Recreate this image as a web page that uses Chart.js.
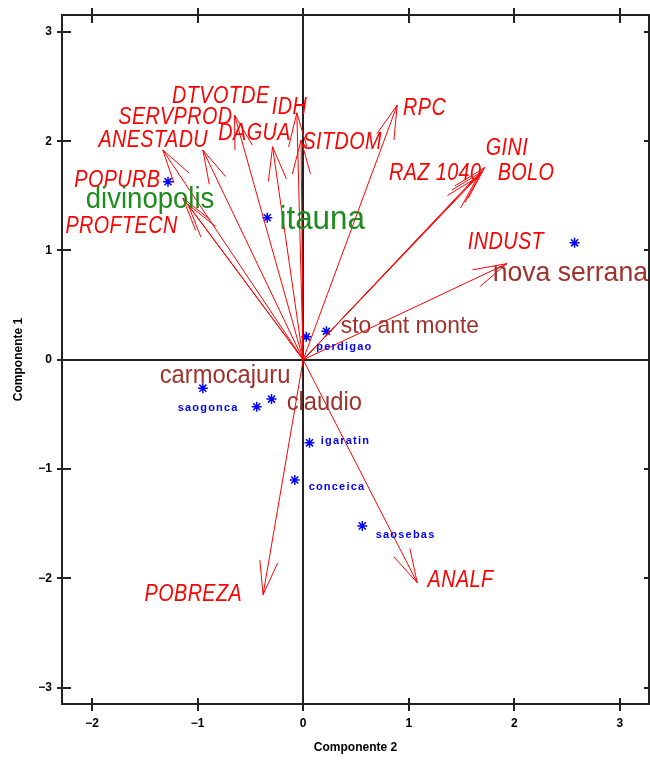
<!DOCTYPE html>
<html>
<head>
<meta charset="utf-8">
<script src="https://cdn.jsdelivr.net/npm/chart.js@4.4.1/dist/chart.umd.min.js"></script>
<style>
  html, body { margin: 0; padding: 0; background: #fff; }
  canvas { display: block; }
</style>
</head>
<body>
<canvas id="biplot" width="650" height="761"></canvas>
<script>
// Variable loadings (arrow tips)
const varNames = ['ANESTADU', 'SERVPROD', 'DTVOTDE', 'DAGUA', 'IDH', 'SITDOM', 'RPC', 'GINI', 'BOLO', 'RAZ 1040', 'INDUST', 'POPURB', 'PROFTECN', 'POBREZA', 'ANALF'];
const varX = [-1.33, -0.95, -0.65, -0.29, -0.06, -0.02, 0.89, 1.72, 1.69, 1.65, 1.93, -1.14, -1.09, -0.38, 1.08];
const varY = [1.92, 1.92, 2.24, 1.95, 2.26, 2.01, 2.33, 1.76, 1.72, 1.67, 0.88, 1.48, 1.42, -2.15, -2.04];
// where each variable name is written
const varLabelX = [-1.42, -1.21, -0.78, -0.46, -0.13, 0.37, 1.15, 1.93, 2.11, 1.25, 1.92, -1.76, -1.72, -1.04, 1.49];
const varLabelY = [2.01, 2.22, 2.41, 2.07, 2.31, 1.99, 2.30, 1.93, 1.70, 1.70, 1.07, 1.64, 1.22, -2.15, -2.02];

// Municipality scores
const cityNames = ['divinopolis', 'itauna', 'nova serrana', 'sto ant monte', 'perdigao', 'carmocajuru', 'saogonca', 'claudio', 'igaratin', 'conceica', 'saosebas'];
const cityX = [-1.28, -0.34, 2.57, 0.22, 0.03, -0.95, -0.44, -0.30, 0.06, -0.08, 0.56];
const cityY = [1.63, 1.30, 1.07, 0.26, 0.21, -0.26, -0.43, -0.36, -0.76, -1.10, -1.52];
const cityLabelX = [-1.45, 0.18, 2.53, 1.01, 0.39, -0.74, -0.90, 0.20, 0.40, 0.32, 0.97];
const cityLabelY = [1.46, 1.28, 0.79, 0.31, 0.12, -0.15, -0.44, -0.40, -0.74, -1.16, -1.60];

// Axis ticks
const xTicks = [-2, -1, 0, 1, 2, 3];
const yTicks = [-3, -2, -1, 0, 1, 2, 3];

// Label styles by group
const greenCities = ['divinopolis', 'itauna'];
const brownCities = ['nova serrana', 'sto ant monte', 'carmocajuru', 'claudio'];
const citySize = { 'divinopolis': 29, 'itauna': 33, 'nova serrana': 28, 'sto ant monte': 24, 'carmocajuru': 25, 'claudio': 25 };

// arrow segments, separated by gaps
const arrowData = [];
varX.forEach((vx, i) => {
    arrowData.push({ x: 0, y: 0 }, { x: vx, y: varY[i] }, { x: null, y: null });
});

function drawLabel(ctx, text, px, py, font, color, sx, spacing) {
    ctx.save();
    ctx.translate(px, py);
    ctx.scale(sx, 1);
    ctx.font = font;
    ctx.fillStyle = color;
    ctx.textAlign = 'center';
    ctx.textBaseline = 'middle';
    ctx.letterSpacing = spacing || '0px';
    ctx.fillText(text, 0, 0);
    ctx.restore();
}

const biplotDecor = {
    id: 'biplotDecor',
    beforeDatasetsDraw(chart) {
        const { ctx, chartArea: a, scales: { x, y } } = chart;
        const x0 = Math.round(x.getPixelForValue(0));
        const y0 = Math.round(y.getPixelForValue(0));
        ctx.save();
        ctx.strokeStyle = '#222';
        ctx.lineWidth = 2;
        ctx.beginPath();
        ctx.moveTo(x0, a.top); ctx.lineTo(x0, a.bottom);
        ctx.moveTo(a.left, y0); ctx.lineTo(a.right, y0);
        ctx.stroke();
        ctx.restore();
    },
    afterDatasetsDraw(chart) {
        const { ctx, chartArea: a, scales: { x, y } } = chart;
        const ox = x.getPixelForValue(0), oy = y.getPixelForValue(0);

        // arrow heads
        const headLen = 35, headAng = 15 * Math.PI / 180;
        ctx.save();
        ctx.strokeStyle = '#ff0000';
        ctx.lineWidth = 1;
        ctx.beginPath();
        varX.forEach((vx, i) => {
            const tx = x.getPixelForValue(vx), ty = y.getPixelForValue(varY[i]);
            const ang = Math.atan2(ty - oy, tx - ox) + Math.PI;
            [-1, 1].forEach(s => {
                ctx.moveTo(tx, ty);
                ctx.lineTo(tx + headLen * Math.cos(ang + s * headAng), ty + headLen * Math.sin(ang + s * headAng));
            });
        });
        ctx.stroke();
        ctx.restore();

        // variable names
        varNames.forEach((n, i) => {
            drawLabel(ctx, n, x.getPixelForValue(varLabelX[i]), y.getPixelForValue(varLabelY[i]),
                'italic 23px "Liberation Sans", Arial, sans-serif', '#ff0000', 0.86, '0.5px');
        });

        // municipality names
        cityNames.forEach((n, i) => {
            const px = x.getPixelForValue(cityLabelX[i]), py = y.getPixelForValue(cityLabelY[i]);
            if (greenCities.includes(n)) {
                drawLabel(ctx, n, px, py, citySize[n] + 'px "Liberation Sans", Arial, sans-serif', '#1e8b1e', 0.95, '0px');
            } else if (brownCities.includes(n)) {
                drawLabel(ctx, n, px, py, citySize[n] + 'px "Liberation Sans", Arial, sans-serif', '#a0322d', 0.95, '0px');
            } else {
                drawLabel(ctx, n, px, py, 'bold 11px "Liberation Sans", Arial, sans-serif', '#0000ff', 1, '1.2px');
            }
        });

        // frame and ticks
        ctx.save();
        ctx.strokeStyle = '#222';
        ctx.lineWidth = 2;
        ctx.strokeRect(a.left, a.top, a.right - a.left, a.bottom - a.top);
        ctx.beginPath();
        xTicks.forEach(v => {
            const px = Math.round(x.getPixelForValue(v));
            ctx.moveTo(px, a.bottom - 6); ctx.lineTo(px, a.bottom + 7);
            ctx.moveTo(px, a.top - 7); ctx.lineTo(px, a.top + 8);
        });
        yTicks.forEach(v => {
            const py = Math.round(y.getPixelForValue(v));
            ctx.moveTo(a.left - 5, py); ctx.lineTo(a.left + 9, py);
            ctx.moveTo(a.right - 5, py); ctx.lineTo(a.right + 1, py);
        });
        ctx.stroke();
        ctx.restore();
    }
};

const tickFont = { family: '"Liberation Sans", Arial, sans-serif', size: 12, weight: 'bold' };
const fmt = v => (v < 0 ? '\u2212' + Math.abs(v) : String(v));

new Chart(document.getElementById('biplot'), {
    type: 'scatter',
    data: {
        datasets: [{
            label: 'variables',
            data: arrowData,
            showLine: true,
            spanGaps: false,
            borderColor: '#ff0000',
            borderWidth: 1,
            pointRadius: 0
        }, {
            label: 'municipios',
            data: cityX.map((v, i) => ({ x: v, y: cityY[i] })),
            pointStyle: 'star',
            pointRadius: 5,
            borderColor: '#0000ff',
            backgroundColor: '#0000ff',
            borderWidth: 1.5
        }]
    },
    options: {
        responsive: false,
        animation: false,
        devicePixelRatio: 1,
        layout: { autoPadding: false, padding: { top: 15, right: 1, left: 0, bottom: 0 } },
        plugins: {
            legend: { display: false },
            tooltip: { enabled: false }
        },
        scales: {
            x: {
                type: 'linear',
                min: -2.284,
                max: 3.275,
                afterBuildTicks: s => { s.ticks = xTicks.map(v => ({ value: v })); },
                afterFit: s => { s.height = 57; s.paddingLeft = 0; s.paddingRight = 0; },
                grid: { display: false, drawTicks: false },
                border: { display: false },
                ticks: { color: '#000', font: tickFont, padding: 12, maxRotation: 0, callback: fmt },
                title: {
                    display: true,
                    text: 'Componente 2',
                    color: '#000',
                    font: tickFont,
                    padding: { top: 0, bottom: 6 }
                }
            },
            y: {
                type: 'linear',
                min: -3.15,
                max: 3.155,
                afterBuildTicks: s => { s.ticks = yTicks.map(v => ({ value: v })); },
                afterFit: s => { s.width = 62; s.paddingTop = 0; s.paddingBottom = 0; },
                grid: { display: false, drawTicks: false },
                border: { display: false },
                ticks: { color: '#000', font: tickFont, padding: 10, callback: fmt },
                title: {
                    display: true,
                    text: 'Componente 1',
                    color: '#000',
                    font: tickFont,
                    padding: { top: 11, bottom: 0 }
                }
            }
        }
    },
    plugins: [biplotDecor]
});
</script>
</body>
</html>
